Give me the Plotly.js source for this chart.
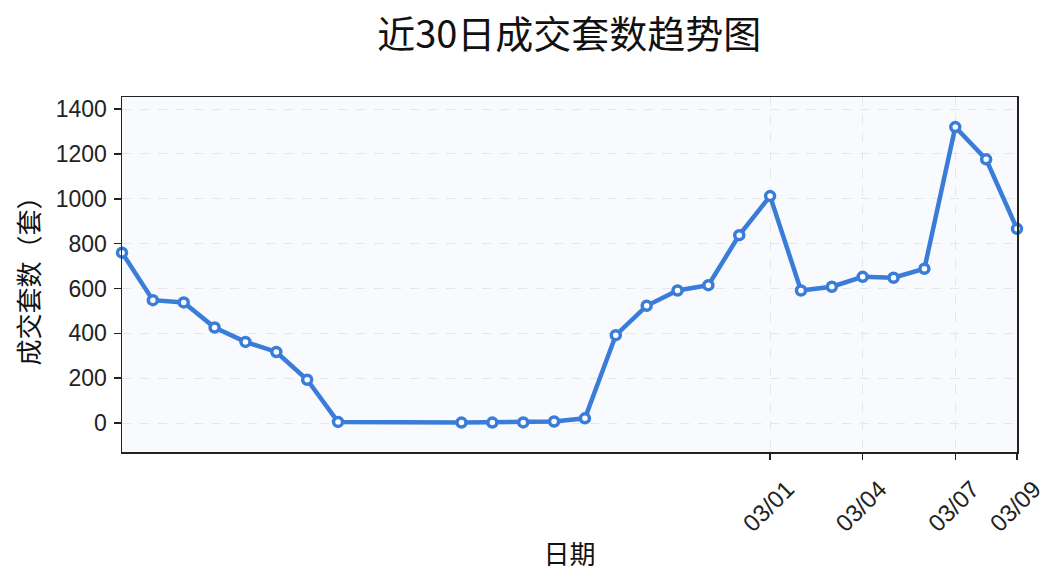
<!DOCTYPE html>
<html>
<head>
<meta charset="utf-8">
<script src="https://cdn.plot.ly/plotly-3.0.1.min.js"></script>
<style>html,body{margin:0;padding:0;background:#fff;}#chart{width:1064px;height:585px;}</style>
</head>
<body>
<div id="chart"></div>
<script>
const dates = ["2025-02-08","2025-02-09","2025-02-10","2025-02-11","2025-02-12","2025-02-13","2025-02-14","2025-02-15",
  "2025-02-19","2025-02-20","2025-02-21","2025-02-22","2025-02-23","2025-02-24","2025-02-25","2025-02-26","2025-02-27","2025-02-28",
  "2025-03-01","2025-03-02","2025-03-03","2025-03-04","2025-03-05","2025-03-06","2025-03-07","2025-03-08","2025-03-09"];
const deals = [760, 548, 538, 426, 362, 317, 193, 5,
  2, 2, 3, 7, 21, 392, 523, 591, 615, 838,
  1012, 591, 608, 652, 648, 688, 1320, 1176, 866];
const tickDates = ["2025-03-01","2025-03-04","2025-03-07","2025-03-09"];
const tickLabels = ["03/01","03/04","03/07","03/09"];
const yTicks = [0, 200, 400, 600, 800, 1000, 1200, 1400];
const titleText = "近30日成交套数趋势图";
const xTitle = "日期";
const yTitle = "成交套数（套）";

const cjk = '"Noto Sans CJK SC", "Noto Sans", sans-serif';
const num = '"Liberation Sans", Arial, sans-serif';

const trace = {
  x: dates, y: deals, type: 'scatter', mode: 'lines+markers',
  line: {color: '#3a7dd8', width: 4.5},
  marker: {size: 9, color: '#ffffff', line: {color: '#3a7dd8', width: 3.5}},
  cliponaxis: false,
  hoverinfo: 'x+y'
};

const layout = {
  width: 1064, height: 585,
  margin: {l: 122, r: 47, t: 97, b: 133},
  paper_bgcolor: '#ffffff',
  plot_bgcolor: '#f8fafd',
  showlegend: false,
  title: {text: titleText, x: 0.535, xanchor: 'center', y: 0.94, yanchor: 'middle',
          font: {family: cjk, size: 38, color: '#111111'}},
  xaxis: {
    type: 'date',
    range: [dates[0], dates[dates.length - 1]],
    tickvals: tickDates, ticktext: tickLabels,
    tickangle: -45,
    tickfont: {family: num, size: 24, color: '#222222'},
    ticks: 'outside', ticklen: 6, tickwidth: 1.5, tickcolor: '#222222',
    ticklabelshift: 17, ticklabelstandoff: 6,
    showline: true, linecolor: '#222222', linewidth: 1.5, mirror: true,
    showgrid: true, gridcolor: '#e3e6ea', griddash: 'dash', gridwidth: 1,
    zeroline: false,
    title: {text: xTitle, font: {family: cjk, size: 26, color: '#111111'}, standoff: 10}
  },
  yaxis: {
    range: [-129, 1454],
    tickvals: yTicks,
    tickfont: {family: num, size: 23, color: '#222222'},
    ticks: 'outside', ticklen: 7, tickwidth: 1.5, tickcolor: '#222222',
    ticklabelstandoff: 2,
    showline: true, linecolor: '#222222', linewidth: 1.5, mirror: true,
    showgrid: true, gridcolor: '#e3e6ea', griddash: 'dash', gridwidth: 1,
    zeroline: false,
    title: {text: yTitle, font: {family: cjk, size: 26, color: '#111111'}, standoff: 8}
  }
};

Plotly.newPlot('chart', [trace], layout, {displayModeBar: false, staticPlot: true});
</script>
</body>
</html>
